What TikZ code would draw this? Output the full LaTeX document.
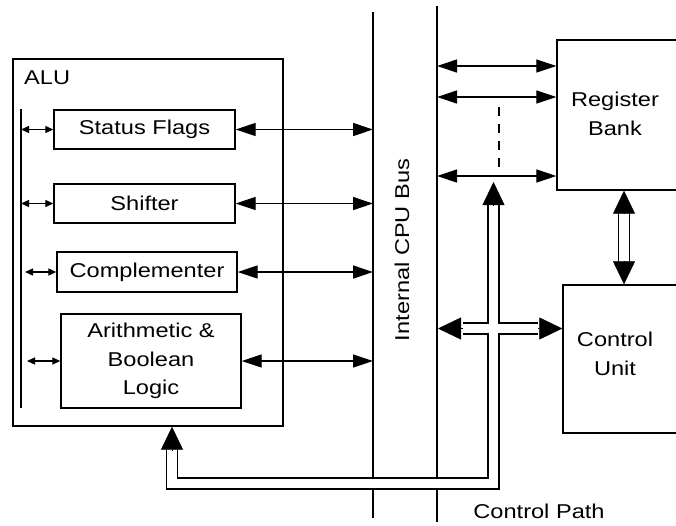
\documentclass[tikz,border=0pt]{standalone}
\usepackage{fontspec}
\setmainfont[FakeStretch=1.18]{Liberation Sans}
\usetikzlibrary{arrows.meta}
\begin{document}
\begin{tikzpicture}[x=1pt,y=-1pt,
  every node/.style={font=\fontsize{20}{28.5}\selectfont},
  box/.style={draw,line width=1.4pt,rectangle,inner sep=0pt,align=center},
  lbl/.style={inner sep=0pt,align=center},
  busline/.style={line width=1.4pt},
  busarrow/.style={line width=1.3pt,{Triangle[length=20pt,width=13pt]}-{Triangle[length=20pt,width=13pt]}},
  smallarrow/.style={line width=1.3pt,{Triangle[length=8pt,width=7pt]}-{Triangle[length=8pt,width=7pt]}},
  pipeout/.style={line width=12.6pt,line join=miter,line cap=butt},
  pipein/.style={line width=9.6pt,white,line join=miter,line cap=butt},
  pipehead/.style={line width=0.5pt,-{Triangle[length=23pt,width=22pt]}}]
\clip (0,0) rectangle (676,525);
\fill[white] (0,0) rectangle (676,525);
% ALU
\node[box,minimum width=270pt,minimum height=367pt] (alu) at (148,242.5) {};
\node[lbl,anchor=west] (alulbl) at (24,78) {ALU};
\coordinate (inT) at (21,109);
\coordinate (inB) at (21,408);
\draw[busline] (inT) -- (inB);
\node[box,minimum width=181pt,minimum height=39pt] (sf) at (144.5,129.5) {Status Flags};
\node[box,minimum width=181pt,minimum height=39pt] (sh) at (144.5,203.5) {Shifter};
\node[box,minimum width=180pt,minimum height=40pt] (cm) at (147,272) {Complementer};
\node[box,minimum width=180pt,minimum height=94pt] (ar) at (151,361) {Arithmetic \&\\Boolean\\Logic};
% bus
\coordinate (bLT) at (373,12);
\coordinate (bLB) at (373,518);
\coordinate (bRT) at (437,6);
\coordinate (bRB) at (437,522);
\draw[busline] (bLT) -- (bLB);
\draw[busline] (bRT) -- (bRB);
\node[lbl,rotate=90] (buslbl) at (402,250) {Internal CPU Bus};
% ALU arrows
\draw[busarrow] (sf.east) -- (sf.east -| bLT);
\draw[busarrow] (sh.east) -- (sh.east -| bLT);
\draw[busarrow] (cm.east) -- (cm.east -| bLT);
\draw[busarrow] (ar.east) -- (ar.east -| bLT);
\draw[smallarrow] (sf.west -| inT) -- (sf.west);
\draw[smallarrow] (sh.west -| inT) -- (sh.west);
\coordinate (cmL) at (25,272);
\coordinate (arL) at (27,361);
\draw[smallarrow] (cmL) -- (cm.west);
\draw[smallarrow] (arL) -- (ar.west);
% register bank & control unit
\node[box,minimum width=143pt,minimum height=150pt] (rb) at (628.5,115) {};
\node[lbl] (rblbl) at (615,114) {Register\\Bank};
\node[box,minimum width=137pt,minimum height=148pt] (cu) at (631.5,359) {};
\node[lbl] (culbl) at (615,354) {Control\\Unit};
\coordinate (r1) at (437,66);
\coordinate (r2) at (437,97);
\coordinate (r3) at (437,176);
\draw[busarrow] (r1) -- (r1 -| rb.west);
\draw[busarrow] (r2) -- (r2 -| rb.west);
\draw[busarrow] (r3) -- (r3 -| rb.west);
\coordinate (dT) at (499,107);
\coordinate (dB) at (499,167);
\draw[line width=1.3pt,dash pattern=on 9pt off 8pt] (dT) -- (dB);
% control path pipes
\coordinate (cpTip) at (493.5,182);
\coordinate (cpTop) at (493.5,205);
\coordinate (cpC1) at (493.5,483.5);
\coordinate (cpC2) at (172,483.5);
\coordinate (cpBase) at (172,450);
\coordinate (cpAlu) at (alu.south -| cpC2);
\coordinate (hTipL) at (438,328.5);
\coordinate (hL) at (463,328.5);
\coordinate (hR) at (538,328.5);
\coordinate (hTipR) at (cu.west |- hR);
\coordinate (vT) at (624,213);
\coordinate (vB) at (624,262);
\coordinate (vTipT) at (rb.south -| vT);
\coordinate (vTipB) at (cu.north -| vT);
\draw[pipeout] (cpTop) -- (cpC1) -- (cpC2) -- (cpBase);
\draw[pipeout] (hL) -- (hR);
\draw[pipeout] (vT) -- (vB);
\draw[pipein] (cpTop) -- (cpC1) -- (cpC2) -- (cpBase);
\draw[pipein] (hL) -- (hR);
\draw[pipein] (vT) -- (vB);
\draw[pipehead] (cpTop) -- (cpTip);
\draw[pipehead] (cpBase) -- (cpAlu);
\draw[pipehead] (hL) -- (hTipL);
\draw[pipehead] (hR) -- (hTipR);
\draw[pipehead] (vT) -- (vTipT);
\draw[pipehead] (vB) -- (vTipB);
\node[lbl] (cplbl) at (539,511) {Control Path};
\end{tikzpicture}
\end{document}
